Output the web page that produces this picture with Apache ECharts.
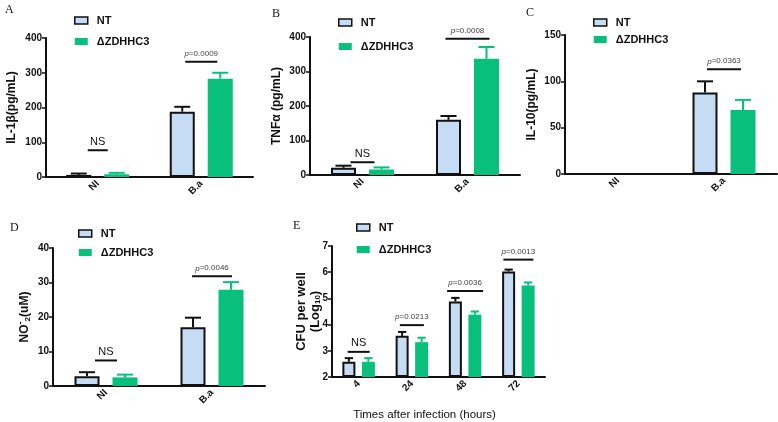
<!DOCTYPE html>
<html>
<head>
<meta charset="utf-8">
<script src="https://cdn.jsdelivr.net/npm/echarts@6/dist/echarts.min.js"></script>
<style>
html, body { margin: 0; padding: 0; background: #fff; }
#chart { width: 778px; height: 422px; }
</style>
</head>
<body>
<div id="chart"></div>
<script>
// values
const groupNames = ['NT', 'ΔZDHHC3']
const infCats = ['NI', 'B.a']
const timeCats = ['4', '24', '48', '72']

// A: IL-1β
const il1bNT = [6, 188]
const il1bNTErr = [4, 14]
const il1bKO = [8, 283]
const il1bKOErr = [4, 17]
const il1bSigCat = [0, 1]
const il1bSigY = [77, 332]
const il1bSigText = ['NS', 'p=0.0009']

// B: TNFα
const tnfNT = [21, 160]
const tnfNTErr = [6, 11]
const tnfKO = [16, 337]
const tnfKOErr = [6, 34]
const tnfSigCat = [0, 1]
const tnfSigY = [37, 395]
const tnfSigText = ['NS', 'p=0.0008']

// C: IL-10
const il10NT = [0, 88]
const il10NTErr = [0, 12]
const il10KO = [0, 69]
const il10KOErr = [0, 11]
const il10SigCat = [1]
const il10SigY = [113]
const il10SigText = ['p=0.0363']

// D: NO2-
const no2NT = [2.8, 17]
const no2NTErr = [1.2, 2.8]
const no2KO = [2.5, 27.9]
const no2KOErr = [0.8, 2.2]
const no2SigCat = [0, 1]
const no2SigY = [7.4, 31.8]
const no2SigText = ['NS', 'p=0.0046']

// E: CFU
const cfuNT = [2.58, 3.57, 4.88, 6.03]
const cfuNTErr = [0.14, 0.15, 0.14, 0.07]
const cfuKO = [2.58, 3.33, 4.38, 5.49]
const cfuKOErr = [0.14, 0.17, 0.12, 0.12]
const cfuSigCat = [0, 1, 2, 3]
const cfuSigY = [2.96, 3.98, 5.28, 6.48]
const cfuSigText = ['NS', 'p=0.0213', 'p=0.0036', 'p=0.0013']

const BLUE = '#c6dbf4'
const GREEN = '#08c07c'
const INK = '#111'
const SANS = 'Liberation Sans'

const panels = [
  {
    letter: 'A', letterPos: [5, 4],
    grid: { left: 46, top: 38, width: 207, height: 139 },
    legend: { left: 74, top: 15, itemGap: 10 },
    cats: infCats, min: 0, max: 400, interval: 100,
    name: 'IL-1β(pg/mL)', nameGap: 28, nameSize: 12,
    nt: il1bNT, ntErr: il1bNTErr, ko: il1bKO, koErr: il1bKOErr,
    sigCat: il1bSigCat, sigY: il1bSigY, sigText: il1bSigText, sigHalf: [10, 16],
    bw: 25, gap: 0.52
  },
  {
    letter: 'B', letterPos: [272, 8],
    grid: { left: 310, top: 37, width: 210, height: 138 },
    legend: { left: 338, top: 17, itemGap: 13 },
    cats: infCats, min: 0, max: 400, interval: 100,
    name: 'TNFα (pg/mL)', nameGap: 27, nameSize: 12,
    nt: tnfNT, ntErr: tnfNTErr, ko: tnfKO, koErr: tnfKOErr,
    sigCat: tnfSigCat, sigY: tnfSigY, sigText: tnfSigText, sigHalf: [12, 22],
    bw: 25, gap: 0.52
  },
  {
    letter: 'C', letterPos: [526, 7],
    grid: { left: 565, top: 35, width: 212, height: 139 },
    legend: { left: 593, top: 17, itemGap: 6 },
    cats: infCats, min: 0, max: 150, interval: 50,
    name: 'IL-10(pg/mL)', nameGap: 27, nameSize: 12,
    nt: il10NT, ntErr: il10NTErr, ko: il10KO, koErr: il10KOErr,
    sigCat: il10SigCat, sigY: il10SigY, sigText: il10SigText, sigHalf: [17],
    bw: 25, gap: 0.52
  },
  {
    letter: 'D', letterPos: [10, 222],
    grid: { left: 53, top: 248, width: 212, height: 138 },
    legend: { left: 78, top: 228, itemGap: 8 },
    cats: infCats, min: 0, max: 40, interval: 10,
    name: '{b|NO}{sup|-}{sub|2}{b|(uM)}', nameGap: 20, nameSize: 12,
    nt: no2NT, ntErr: no2NTErr, ko: no2KO, koErr: no2KOErr,
    sigCat: no2SigCat, sigY: no2SigY, sigText: no2SigText, sigHalf: [11, 20],
    bw: 25, gap: 0.52
  },
  {
    letter: 'E', letterPos: [293, 220],
    grid: { left: 332, top: 246, width: 213, height: 138 },
    legend: { left: 356, top: 222, itemGap: 11 },
    cats: timeCats, min: 2, max: 7, interval: 1,
    name: '{b|CFU per well}\n{b|(Log}{sub|10}{b|)}', nameGap: 10, nameSize: 13,
    xName: 'Times after infection (hours)',
    nt: cfuNT, ntErr: cfuNTErr, ko: cfuKO, koErr: cfuKOErr,
    sigCat: cfuSigCat, sigY: cfuSigY, sigText: cfuSigText, sigHalf: [11, 12, 18, 15],
    bw: 13, gap: 0.5
  }
]

const errRender = (bw, gap, side, color) => (params, api) => {
  const err = api.value(2)
  if (!err) return
  const off = side * bw * (1 + gap) / 2
  const p0 = api.coord([api.value(0), api.value(1)])
  const p1 = api.coord([api.value(0), api.value(1) + err])
  const x = p0[0] + off
  const cap = bw * 0.32
  const st = { stroke: color, lineWidth: 2 }
  return {
    type: 'group',
    children: [
      { type: 'line', shape: { x1: x, y1: p0[1], x2: x, y2: p1[1] }, style: st },
      { type: 'line', shape: { x1: x - cap, y1: p1[1], x2: x + cap, y2: p1[1] }, style: st }
    ]
  }
}

const sigRender = (texts, halves) => (params, api) => {
  const p = api.coord([api.value(0), api.value(1)])
  const t = texts[params.dataIndex]
  const hw = halves[params.dataIndex]
  const isNS = t === 'NS'
  return {
    type: 'group',
    children: [
      { type: 'line', shape: { x1: p[0] - hw, y1: p[1], x2: p[0] + hw, y2: p[1] },
        style: { stroke: INK, lineWidth: 2 } },
      { type: 'text',
        style: {
          x: p[0], y: p[1] - (isNS ? 3 : 4),
          text: isNS ? 'NS' : '{i|p}' + t.slice(1),
          align: 'center', verticalAlign: 'bottom',
          fontFamily: SANS, fontSize: isNS ? 11 : 8, fill: isNS ? INK : '#444',
          rich: { i: { fontStyle: 'italic', fontFamily: SANS, fontSize: 8, fill: '#444' } }
        } }
    ]
  }
}

const option = {
  animation: false,
  backgroundColor: '#fff',
  title: [],
  legend: [],
  grid: [],
  xAxis: [],
  yAxis: [],
  series: []
}

panels.forEach((pn, i) => {
  const nf = pn.nameSize
  option.title.push({
    text: pn.letter, left: pn.letterPos[0], top: pn.letterPos[1], padding: 0,
    textStyle: { fontFamily: 'Liberation Serif', fontSize: 12, fontWeight: 'normal', color: INK }
  })
  option.legend.push({
    orient: 'vertical', left: pn.legend.left, top: pn.legend.top, itemGap: pn.legend.itemGap,
    padding: 0, itemWidth: 13, itemHeight: 7, selectedMode: false,
    textStyle: { fontFamily: SANS, fontSize: 11, fontWeight: 'bold', color: INK, padding: [0, 0, 0, 4] },
    data: [
      { name: groupNames[0], icon: 'rect', itemStyle: { color: BLUE, borderColor: INK, borderWidth: 1.5 } },
      { name: groupNames[1], icon: 'rect', itemStyle: { color: GREEN, borderWidth: 0 } }
    ]
  })
  option.grid.push(Object.assign({ containLabel: false }, pn.grid))
  option.xAxis.push({
    type: 'category', gridIndex: i, data: pn.cats,
    name: pn.xName || '', nameLocation: 'middle', nameGap: 32, nameMoveOverlap: false,
    nameTextStyle: { fontFamily: SANS, fontSize: 11.5, color: INK, padding: [0, 28, 0, 0] },
    axisLine: { lineStyle: { color: INK, width: 2 } },
    axisTick: { alignWithLabel: true, length: 4, lineStyle: { color: INK, width: 1.5 } },
    axisLabel: { rotate: 45, margin: 5, fontFamily: SANS, fontSize: 10, fontWeight: 'bold', color: INK }
  })
  option.yAxis.push({
    type: 'value', gridIndex: i, min: pn.min, max: pn.max, interval: pn.interval, startValue: pn.min,
    name: pn.name, nameLocation: 'middle', nameGap: pn.nameGap, nameMoveOverlap: false,
    nameTextStyle: {
      fontFamily: SANS, fontSize: nf, fontWeight: 'bold', color: INK,
      rich: {
        b: { fontFamily: SANS, fontSize: nf, fontWeight: 'bold', color: INK },
        sup: { fontFamily: SANS, fontSize: 9, fontWeight: 'bold', color: INK, padding: [0, 0, 8, 0] },
        sub: { fontFamily: SANS, fontSize: 8, fontWeight: 'bold', color: INK, padding: [6, 0, 0, 0] }
      }
    },
    splitLine: { show: false },
    axisLine: { show: true, lineStyle: { color: INK, width: 2 } },
    axisTick: { show: true, length: 4, lineStyle: { color: INK, width: 1.5 } },
    axisLabel: { margin: 4, fontFamily: SANS, fontSize: 10, fontWeight: 'bold', color: INK }
  })
  option.series.push(
    {
      name: groupNames[0], type: 'bar', xAxisIndex: i, yAxisIndex: i,
      barWidth: pn.bw, barGap: Math.round(pn.gap * 100) + '%',
      itemStyle: { color: BLUE, borderColor: INK, borderWidth: 2 },
      data: pn.nt
    },
    {
      name: groupNames[1], type: 'bar', xAxisIndex: i, yAxisIndex: i,
      barWidth: pn.bw, barGap: Math.round(pn.gap * 100) + '%',
      itemStyle: { color: GREEN },
      data: pn.ko
    },
    {
      type: 'custom', xAxisIndex: i, yAxisIndex: i, z: 3,
      renderItem: errRender(pn.bw, pn.gap, -1, INK),
      data: pn.nt.map((v, k) => [k, v, pn.ntErr[k]])
    },
    {
      type: 'custom', xAxisIndex: i, yAxisIndex: i, z: 3,
      renderItem: errRender(pn.bw, pn.gap, 1, GREEN),
      data: pn.ko.map((v, k) => [k, v, pn.koErr[k]])
    },
    {
      type: 'custom', xAxisIndex: i, yAxisIndex: i, z: 4,
      renderItem: sigRender(pn.sigText, pn.sigHalf),
      data: pn.sigCat.map((c, k) => [c, pn.sigY[k]])
    }
  )
})

const chart = echarts.init(document.getElementById('chart'), null, { renderer: 'canvas' })
chart.setOption(option)
</script>
</body>
</html>
